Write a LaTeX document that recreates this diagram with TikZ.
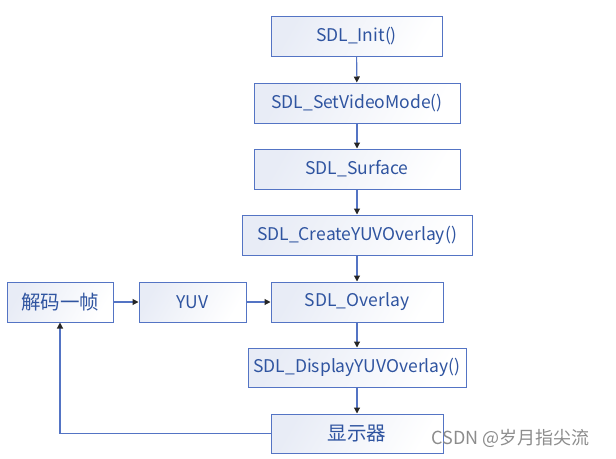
\documentclass[tikz,border=0pt]{standalone}
\usepackage{fontspec}
\setmainfont{Noto Sans CJK SC}
\usepackage{tikz}
\usetikzlibrary{arrows.meta}
\definecolor{boxline}{RGB}{84,116,196}
\definecolor{boxtext}{RGB}{47,84,160}
\definecolor{boxfill}{RGB}{232,236,246}
\tikzset{box/.style={draw=boxline,line width=1pt,left color=boxfill,right color=white,shading angle=60,text=boxtext,font=\fontsize{17.5}{17.5}\selectfont,inner sep=0pt,minimum height=40pt}}
\tikzset{cjkbox/.style={box,font=\fontsize{19.5}{19.5}\selectfont}}
\tikzset{link/.style={boxline,line width=1.1pt,-{Triangle[length=6pt,width=6pt,color=black!85]}}}

\begin{document}
\begin{tikzpicture}[x=1pt,y=-1pt]
	\useasboundingbox (0,0) rectangle (616,458);
	\node[box,minimum width=171pt] (init) at (356.5,36) {SDL\_Init()};
	\node[box,minimum width=206pt] (setmode) at (357,103) {SDL\_SetVideoMode()};
	\node[box,minimum width=206pt] (surface) at (357,169) {SDL\_Surface};
	\node[box,minimum width=230pt] (create) at (357,235) {SDL\_CreateYUVOverlay()};
	\node[box,minimum width=172pt] (overlay) at (357,302) {SDL\_Overlay};
	\node[box,minimum width=218pt,minimum height=39pt] (display) at (357,367.5) {SDL\_DisplayYUVOverlay()};
	\node[cjkbox,minimum width=172pt,minimum height=39pt] (screen) at (357,433.5) {显示器};
	\node[cjkbox,minimum width=106pt] (decode) at (60,302) {解码一帧};
	\node[box,minimum width=107pt] (yuv) at (192.5,302) {YUV};
	\draw[link] (init) -- (setmode);
	\draw[link] (setmode) -- (surface);
	\draw[link] (surface) -- (create);
	\draw[link] (create) -- (overlay);
	\draw[link] (overlay) -- (display);
	\draw[link] (display) -- (screen);
	\draw[link] (decode) -- (yuv);
	\draw[link] (yuv) -- (overlay);
	\draw[link] (screen.west) -| (decode.south);
	\node[text=black!45,font=\fontsize{18}{18}\selectfont,anchor=west] (mark) at (428,438) {CSDN @岁月指尖流};
\end{tikzpicture}
\end{document}
